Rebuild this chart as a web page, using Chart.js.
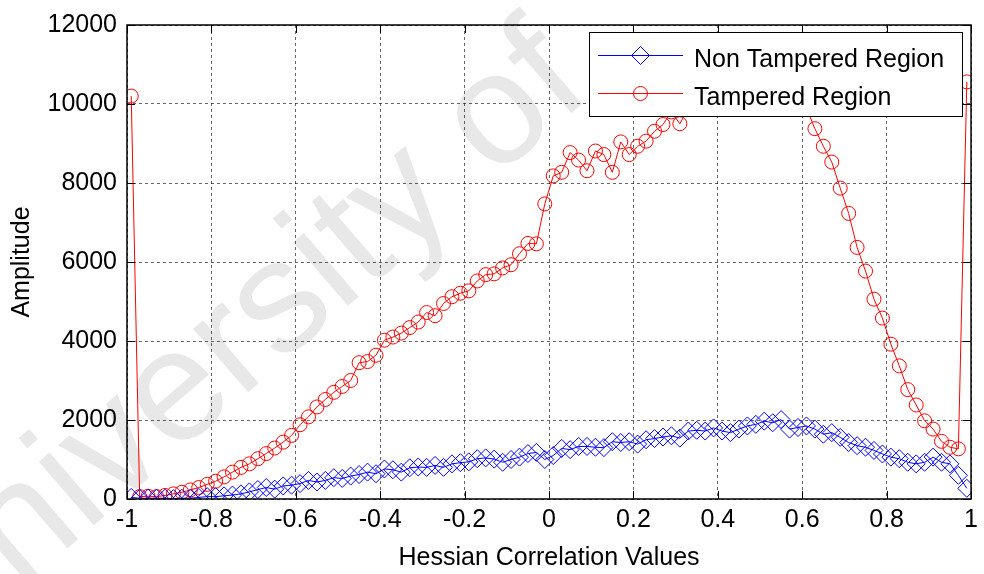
<!DOCTYPE html>
<html>
<head>
<meta charset="utf-8">
<script src="https://cdn.jsdelivr.net/npm/chart.js@4.4.1/dist/chart.umd.min.js"></script>
<style>
  html, body { margin: 0; padding: 0; background: #fff; }
  #wrap { width: 984px; height: 574px; position: relative; }
</style>
</head>
<body>
<div id="wrap"><canvas id="chart"></canvas></div>
<script>
// bin centres of the correlation histogram
const xValues = [
  -0.99, -0.97, -0.95, -0.93, -0.91, -0.89, -0.87, -0.85, -0.83, -0.81,
  -0.79, -0.77, -0.75, -0.73, -0.71, -0.69, -0.67, -0.65, -0.63, -0.61,
  -0.59, -0.57, -0.55, -0.53, -0.51, -0.49, -0.47, -0.45, -0.43, -0.41,
  -0.39, -0.37, -0.35, -0.33, -0.31, -0.29, -0.27, -0.25, -0.23, -0.21,
  -0.19, -0.17, -0.15, -0.13, -0.11, -0.09, -0.07, -0.05, -0.03, -0.01,
  0.01, 0.03, 0.05, 0.07, 0.09, 0.11, 0.13, 0.15, 0.17, 0.19,
  0.21, 0.23, 0.25, 0.27, 0.29, 0.31, 0.33, 0.35, 0.37, 0.39,
  0.41, 0.43, 0.45, 0.47, 0.49, 0.51, 0.53, 0.55, 0.57, 0.59,
  0.61, 0.63, 0.65, 0.67, 0.69, 0.71, 0.73, 0.75, 0.77, 0.79,
  0.81, 0.83, 0.85, 0.87, 0.89, 0.91, 0.93, 0.95, 0.97, 0.99
];

const nonTampered = [
  40, 20, 20, 20, 20, 10, 20, 20, 40, 60,
  60, 80, 100, 130, 180, 240, 290, 250, 330, 350,
  390, 470, 430, 470, 540, 520, 580, 620, 680, 640,
  760, 740, 680, 790, 810, 800, 850, 800, 890, 920,
  940, 1020, 1040, 1010, 930, 1000, 1060, 1150, 1180, 1000,
  1100, 1280, 1250, 1330, 1330, 1310, 1300, 1450, 1430, 1450,
  1390, 1500, 1530, 1570, 1600, 1540, 1720, 1740, 1720, 1800,
  1720, 1680, 1770, 1850, 1890, 1970, 1930, 2010, 1770, 1810,
  1850, 1770, 1640, 1680, 1560, 1430, 1350, 1310, 1230, 1140,
  1060, 1020, 930, 890, 930, 1060, 930, 890, 600, 270
];

const tampered = [
  10200, 60, 70, 60, 90, 130, 170, 230, 290, 370,
  450, 560, 680, 800, 890, 1020, 1150, 1290, 1440, 1610,
  1880, 2080, 2330, 2520, 2700, 2850, 3000, 3450, 3480, 3640,
  4020, 4100, 4200, 4340, 4480, 4720, 4640, 4950, 5120, 5210,
  5270, 5520, 5680, 5700, 5850, 5930, 6210, 6470, 6460, 7470,
  8180, 8270, 8770, 8580, 8310, 8810, 8720, 8270, 9040, 8720,
  8930, 9060, 9310, 9480, 9800, 9500, 9900, 10100, 10000, 10300,
  10400, 10300, 10600, 10700, 10600, 10800, 10700, 10600, 10500, 10300,
  9900, 9375, 8930, 8530, 7870, 7230, 6370, 5770, 5060, 4580,
  3920, 3370, 2770, 2380, 1980, 1770, 1460, 1310, 1270, 10560
];

const xTicks = [-1, -0.8, -0.6, -0.4, -0.2, 0, 0.2, 0.4, 0.6, 0.8, 1];
const yTicks = [0, 2000, 4000, 6000, 8000, 10000, 12000];
const seriesNames = ['Non Tampered Region', 'Tampered Region'];

const FONT = '"Liberation Sans", Arial, sans-serif';

function toPoints(ys) {
  return xValues.map((x, i) => ({ x: x, y: ys[i] }));
}

// faint diagonal watermark behind everything
const watermark = {
  id: 'watermark',
  beforeDraw(chart) {
    const ctx = chart.ctx;
    ctx.save();
    ctx.translate(-68, 665);
    ctx.rotate(-0.712);
    ctx.fillStyle = '#e8e8e8';
    ctx.font = '159px ' + FONT;
    ctx.textBaseline = 'alphabetic';
    ctx.fillText('University of', 0, 0);
    ctx.restore();
  }
};

function marker(ctx, style, x, y, r) {
  ctx.beginPath();
  if (style === 'diamond') {
    ctx.moveTo(x, y - r);
    ctx.lineTo(x + r, y);
    ctx.lineTo(x, y + r);
    ctx.lineTo(x - r, y);
    ctx.closePath();
  } else {
    ctx.arc(x, y, r, 0, Math.PI * 2);
  }
  ctx.stroke();
}

// matlab style box with inward tick marks, plus legend on top
const frame = {
  id: 'frame',
  afterDatasetsDraw(chart) {
    const ctx = chart.ctx;
    const a = chart.chartArea;
    const xs = chart.scales.x, ys = chart.scales.y;
    const len = 8;
    ctx.save();
    ctx.setLineDash([]);
    ctx.strokeStyle = '#000';
    ctx.lineWidth = 1;
    ctx.beginPath();
    xTicks.forEach(t => {
      const px = Math.round(xs.getPixelForValue(t)) + 0.5;
      ctx.moveTo(px, a.bottom); ctx.lineTo(px, a.bottom - len);
      ctx.moveTo(px, a.top); ctx.lineTo(px, a.top + len);
    });
    yTicks.forEach(t => {
      const py = Math.round(ys.getPixelForValue(t)) + 0.5;
      ctx.moveTo(a.left, py); ctx.lineTo(a.left + len, py);
      ctx.moveTo(a.right, py); ctx.lineTo(a.right - len, py);
    });
    ctx.stroke();
    ctx.lineWidth = 1.5;
    ctx.strokeRect(a.left, a.top, a.right - a.left, a.bottom - a.top);

    const bx = 589, by = 32, bw = 373, bh = 84;
    ctx.fillStyle = '#fff';
    ctx.fillRect(bx, by, bw, bh);
    ctx.strokeStyle = '#000';
    ctx.lineWidth = 1;
    ctx.strokeRect(bx + 0.5, by + 0.5, bw, bh);
    const rows = [
      { y: 55, color: '#0000ff', style: 'diamond', r: 9 },
      { y: 93, color: '#ff0000', style: 'circle', r: 7 }
    ];
    rows.forEach((row, i) => {
      ctx.strokeStyle = row.color;
      ctx.lineWidth = 1;
      ctx.beginPath();
      ctx.moveTo(598, row.y + 0.5);
      ctx.lineTo(683, row.y + 0.5);
      ctx.stroke();
      marker(ctx, row.style, 640.5, row.y + 0.5, row.r);
      ctx.fillStyle = '#000';
      ctx.font = '25px ' + FONT;
      ctx.textBaseline = 'alphabetic';
      ctx.fillText(seriesNames[i], 694, row.y + 12);
    });
    ctx.restore();
  }
};

new Chart(document.getElementById('chart'), {
  type: 'line',
  data: {
    datasets: [
      {
        label: seriesNames[0],
        data: toPoints(nonTampered),
        borderColor: '#0000ff',
        backgroundColor: 'rgba(0,0,0,0)',
        borderWidth: 1,
        pointStyle: 'rectRot',
        pointRadius: 9,
        pointBorderWidth: 1,
        pointBorderColor: '#0000ff',
        pointBackgroundColor: 'rgba(0,0,0,0)'
      },
      {
        label: seriesNames[1],
        data: toPoints(tampered),
        borderColor: '#ff0000',
        backgroundColor: 'rgba(0,0,0,0)',
        borderWidth: 1,
        pointStyle: 'circle',
        pointRadius: 7,
        pointBorderWidth: 1,
        pointBorderColor: '#ff0000',
        pointBackgroundColor: 'rgba(0,0,0,0)'
      }
    ]
  },
  options: {
    responsive: true,
    maintainAspectRatio: false,
    animation: false,
    events: [],
    layout: { padding: { top: 18, right: 11, left: 0, bottom: 0 } },
    elements: { line: { tension: 0 } },
    plugins: { legend: { display: false }, tooltip: { enabled: false } },
    scales: {
      x: {
        type: 'linear',
        min: -1,
        max: 1,
        afterFit: s => { s.height = 75; },
        afterBuildTicks: s => { s.ticks = xTicks.map(v => ({ value: v })); },
        ticks: {
          color: '#000',
          padding: 6,
          maxRotation: 0,
          font: { family: FONT, size: 25 },
          callback: v => String(Math.round(v * 10) / 10)
        },
        grid: { color: 'rgba(0,0,0,0.6)', lineWidth: 1, drawTicks: false },
        border: { display: false, dash: [3, 3] },
        title: {
          display: true,
          text: 'Hessian Correlation Values',
          color: '#000',
          font: { family: FONT, size: 25 },
          padding: { top: 0, bottom: 1 }
        }
      },
      y: {
        min: 0,
        max: 12000,
        afterFit: s => { s.width = 127; },
        afterBuildTicks: s => { s.ticks = yTicks.map(v => ({ value: v })); },
        ticks: {
          color: '#000',
          padding: 10,
          font: { family: FONT, size: 25 },
          callback: v => String(v)
        },
        grid: { color: 'rgba(0,0,0,0.6)', lineWidth: 1, drawTicks: false },
        border: { display: false, dash: [3, 3] },
        title: {
          display: true,
          text: 'Amplitude',
          color: '#000',
          font: { family: FONT, size: 25 },
          padding: { top: 7, bottom: 0 }
        }
      }
    }
  },
  plugins: [watermark, frame]
});
</script>
</body>
</html>
